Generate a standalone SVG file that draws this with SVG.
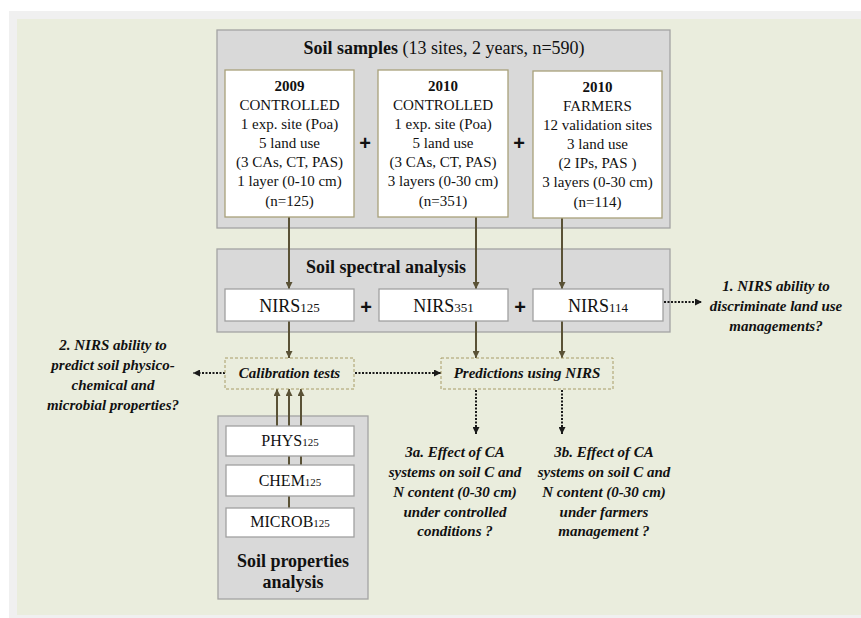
<svg xmlns="http://www.w3.org/2000/svg" width="861" height="618" viewBox="0 0 861 618">
<defs>
<marker id="ah" viewBox="0 0 10 10" refX="10" refY="5" markerWidth="7" markerHeight="7" markerUnits="userSpaceOnUse" orient="auto"><path d="M0,0 L10,5 L0,10 z" fill="#5a5236"/></marker>
<marker id="ad" viewBox="0 0 10 10" refX="10" refY="5" markerWidth="7" markerHeight="7" markerUnits="userSpaceOnUse" orient="auto"><path d="M0,0 L10,5 L0,10 z" fill="#1a1a1a"/></marker>
</defs>
<style>
.grp{fill:#d9d9d9;stroke:#a3a3a3;stroke-width:1.3}
.sb{fill:#fff;stroke:#a8a07a;stroke-width:1.3}
.nb{fill:#fff;stroke:#a0a0a0;stroke-width:1.3}
.db{fill:none;stroke:#a89c66;stroke-width:1;stroke-dasharray:3,2}
text{font-family:'Liberation Serif','DejaVu Serif',serif;fill:#111;text-anchor:middle}
.r15{font-size:15px}
.b18{font-size:18px;font-weight:bold}
.bi{font-size:15px;font-weight:bold;font-style:italic}
text.plus{font-family:'Liberation Sans',Arial,sans-serif;font-size:20px;font-weight:bold}
.sol{stroke:#5a5236;stroke-width:2;fill:none}
.dot{stroke:#1a1a1a;stroke-width:2;fill:none;stroke-dasharray:2,1.5}
</style>
<rect x="9" y="11" width="852" height="607" fill="#f0f0f0"/>
<rect x="17" y="19" width="844" height="596" fill="#eaeddd"/>

<g id="soil-samples">
<rect class="grp" x="217" y="30" width="453" height="198"/>
<text x="444" y="54" font-size="18px"><tspan font-weight="bold">Soil samples</tspan> (13 sites, 2 years, n=590)</text>
</g>
<g id="soil-spectral-analysis">
<rect class="grp" x="217" y="249" width="453" height="83"/>
<text class="b18" x="386" y="273">Soil spectral analysis</text>
</g>
<g id="soil-properties-analysis">
<rect class="grp" x="218" y="416" width="150" height="183"/>
<text class="b18" x="293" y="567">Soil properties</text>
<text class="b18" x="293" y="588">analysis</text>
</g>

<g id="connectors">
<line class="sol" x1="289" y1="217" x2="289" y2="289" marker-end="url(#ah)"/>
<line class="sol" x1="476" y1="217" x2="476" y2="289" marker-end="url(#ah)"/>
<line class="sol" x1="562" y1="218" x2="562" y2="289" marker-end="url(#ah)"/>
<line class="sol" x1="289" y1="321" x2="289" y2="358" marker-end="url(#ah)"/>
<line class="sol" x1="476" y1="321" x2="476" y2="358" marker-end="url(#ah)"/>
<line class="sol" x1="562" y1="321" x2="562" y2="358" marker-end="url(#ah)"/>
<line class="sol" x1="277" y1="426" x2="277" y2="389" marker-end="url(#ah)"/>
<line class="sol" x1="289" y1="508" x2="289" y2="389" marker-end="url(#ah)"/>
<line class="sol" x1="301" y1="465" x2="301" y2="389" marker-end="url(#ah)"/>
<line class="dot" x1="355" y1="373" x2="441" y2="373" marker-end="url(#ad)"/>
<line class="dot" x1="225" y1="373" x2="193" y2="373" marker-end="url(#ad)"/>
<line class="dot" x1="664" y1="302" x2="702" y2="302" marker-end="url(#ad)"/>
<line class="dot" x1="476" y1="390" x2="476" y2="434" marker-end="url(#ad)"/>
<line class="dot" x1="562" y1="390" x2="562" y2="434" marker-end="url(#ad)"/>
</g>

<g id="samples-2009">
<rect class="sb" x="225" y="70" width="129" height="147"/>
<text class="r15" x="289.5" y="91" font-weight="bold">2009</text>
<text class="r15" x="289.5" y="110">CONTROLLED</text>
<text class="r15" x="289.5" y="129">1 exp. site (Poa)</text>
<text class="r15" x="289.5" y="148">5 land use</text>
<text class="r15" x="289.5" y="167">(3 CAs, CT, PAS)</text>
<text class="r15" x="289.5" y="186">1 layer (0-10 cm)</text>
<text class="r15" x="289.5" y="206">(n=125)</text>
</g>
<g id="samples-2010-controlled">
<rect class="sb" x="378" y="70" width="130" height="147"/>
<text class="r15" x="443" y="91" font-weight="bold">2010</text>
<text class="r15" x="443" y="110">CONTROLLED</text>
<text class="r15" x="443" y="129">1 exp. site (Poa)</text>
<text class="r15" x="443" y="148">5 land use</text>
<text class="r15" x="443" y="167">(3 CAs, CT, PAS)</text>
<text class="r15" x="443" y="186">3 layers (0-30 cm)</text>
<text class="r15" x="443" y="206">(n=351)</text>
</g>
<g id="samples-2010-farmers">
<rect class="sb" x="533" y="71" width="129" height="147"/>
<text class="r15" x="597.5" y="92" font-weight="bold">2010</text>
<text class="r15" x="597.5" y="111">FARMERS</text>
<text class="r15" x="597.5" y="130">12 validation sites</text>
<text class="r15" x="597.5" y="149">3 land use</text>
<text class="r15" x="597.5" y="168">(2 IPs, PAS )</text>
<text class="r15" x="597.5" y="187">3 layers (0-30 cm)</text>
<text class="r15" x="597.5" y="207">(n=114)</text>
</g>
<text class="plus" x="365" y="150">+</text>
<text class="plus" x="519" y="150">+</text>

<g id="nirs125">
<rect class="nb" x="225" y="289" width="129" height="32"/>
<text x="289.5" y="312" font-size="18px">NIRS<tspan font-size="13px">125</tspan></text>
</g>
<g id="nirs351">
<rect class="nb" x="379" y="289" width="129" height="32"/>
<text x="443.5" y="312" font-size="18px">NIRS<tspan font-size="13px">351</tspan></text>
</g>
<g id="nirs114">
<rect class="nb" x="533" y="289" width="130" height="32"/>
<text x="598" y="312" font-size="18px">NIRS<tspan font-size="13px">114</tspan></text>
</g>
<text class="plus" x="366" y="314">+</text>
<text class="plus" x="520" y="314">+</text>

<g id="calibration-tests">
<rect class="db" x="225" y="358" width="129" height="31"/>
<text class="bi" x="289.5" y="378">Calibration tests</text>
</g>
<g id="predictions">
<rect class="db" x="441" y="358" width="172" height="31"/>
<text class="bi" x="527" y="378">Predictions using NIRS</text>
</g>

<g id="phys125">
<rect class="nb" x="226" y="426" width="128" height="30"/>
<text x="290" y="446" font-size="16px">PHYS<tspan font-size="11px">125</tspan></text>
</g>
<g id="chem125">
<rect class="nb" x="226" y="465" width="128" height="31"/>
<text x="290" y="486" font-size="16px">CHEM<tspan font-size="11px">125</tspan></text>
</g>
<g id="microb125">
<rect class="nb" x="226" y="508" width="128" height="29"/>
<text x="290" y="527" font-size="16px">MICROB<tspan font-size="11px">125</tspan></text>
</g>

<g id="question-1">
<text class="bi" x="776" y="291">1. NIRS ability to</text>
<text class="bi" x="776" y="311">discriminate land use</text>
<text class="bi" x="776" y="331">managements?</text>
</g>
<g id="question-2">
<text class="bi" x="113" y="350">2. NIRS ability to</text>
<text class="bi" x="113" y="370">predict soil physico-</text>
<text class="bi" x="113" y="390">chemical  and</text>
<text class="bi" x="113" y="410">microbial properties?</text>
</g>
<g id="question-3a">
<text class="bi" x="455" y="457">3a. Effect of CA</text>
<text class="bi" x="455" y="477">systems on soil C and</text>
<text class="bi" x="455" y="497">N content (0-30  cm)</text>
<text class="bi" x="455" y="517">under controlled</text>
<text class="bi" x="455" y="536">conditions ?</text>
</g>
<g id="question-3b">
<text class="bi" x="604" y="457">3b. Effect of CA</text>
<text class="bi" x="604" y="477">systems on soil C and</text>
<text class="bi" x="604" y="497">N content (0-30  cm)</text>
<text class="bi" x="604" y="517">under farmers</text>
<text class="bi" x="604" y="536">management ?</text>
</g>
</svg>
